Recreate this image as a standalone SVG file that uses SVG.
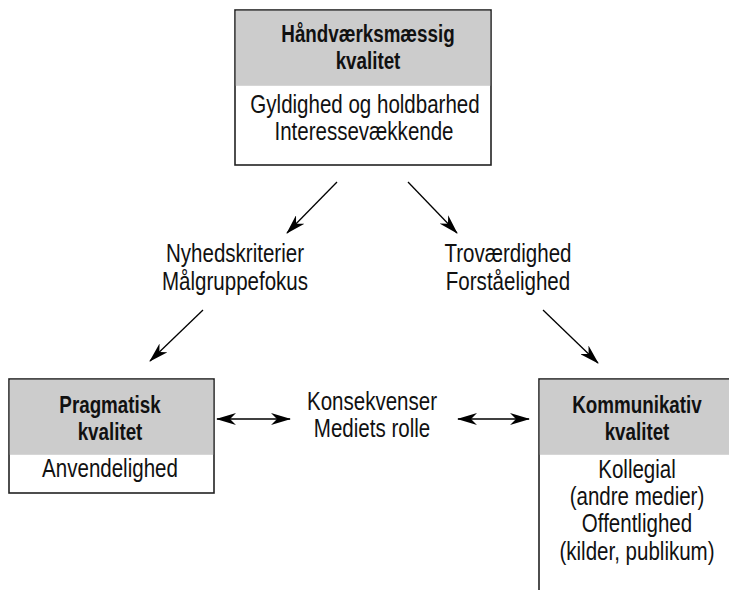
<svg xmlns="http://www.w3.org/2000/svg" width="729" height="590" viewBox="0 0 729 590">
<defs>
<style>
.box{fill:#fff;stroke:#222;stroke-width:1.6}
.hdr{fill:#cccccc}
.t{font-family:"Liberation Sans",Arial,sans-serif;font-size:26px;fill:#111;text-anchor:middle}
.b{font-family:"Liberation Sans",Arial,sans-serif;font-size:23.5px;font-weight:bold;fill:#111;text-anchor:middle}
.c{stroke:#000;stroke-width:1.3;fill:none;marker-end:url(#ah)}
.d{marker-start:url(#ah2)}
</style>
<marker id="ah" viewBox="0 0 20 12" refX="19" refY="6" markerWidth="20" markerHeight="12" orient="auto" markerUnits="userSpaceOnUse"><path d="M0,0 L20,6 L0,12 L6,6 z" fill="#000"/></marker>
<marker id="ah2" viewBox="0 0 20 12" refX="19" refY="6" markerWidth="20" markerHeight="12" orient="auto-start-reverse" markerUnits="userSpaceOnUse"><path d="M0,0 L20,6 L0,12 L6,6 z" fill="#000"/></marker>
</defs>
<rect width="729" height="590" fill="#fff"/>
<g id="top">
<rect class="box" x="235" y="10" width="256" height="155"/>
<rect class="hdr" x="235.8" y="10.8" width="254.4" height="75"/>
<text class="b" transform="translate(368,42) scale(0.8,1)">Håndværksmæssig</text>
<text class="b" transform="translate(368,69) scale(0.8,1)">kvalitet</text>
<text class="t" transform="translate(365,113) scale(0.79,1)">Gyldighed og holdbarhed</text>
<text class="t" transform="translate(364,140) scale(0.79,1)">Interessevækkende</text>
</g>
<g id="pragmatisk">
<rect class="box" x="9" y="379" width="205" height="114"/>
<rect class="hdr" x="9.8" y="379.8" width="203.4" height="75"/>
<text class="b" transform="translate(110,413) scale(0.8,1)">Pragmatisk</text>
<text class="b" transform="translate(110,440) scale(0.8,1)">kvalitet</text>
<text class="t" transform="translate(110,477) scale(0.79,1)">Anvendelighed</text>
</g>
<g id="kommunikativ">
<rect class="box" x="539" y="379" width="220" height="240"/>
<rect class="hdr" x="539.8" y="379.8" width="218" height="75"/>
<text class="b" transform="translate(637,413) scale(0.8,1)">Kommunikativ</text>
<text class="b" transform="translate(637,440) scale(0.8,1)">kvalitet</text>
<text class="t" transform="translate(637,478) scale(0.79,1)">Kollegial</text>
<text class="t" transform="translate(637,505) scale(0.79,1)">(andre medier)</text>
<text class="t" transform="translate(637,532) scale(0.79,1)">Offentlighed</text>
<text class="t" transform="translate(637,560) scale(0.79,1)">(kilder, publikum)</text>
</g>
<g id="label-left">
<text class="t" transform="translate(235,262) scale(0.79,1)">Nyhedskriterier</text>
<text class="t" transform="translate(235,290) scale(0.79,1)">Målgruppefokus</text>
</g>
<g id="label-right">
<text class="t" transform="translate(508,262) scale(0.79,1)">Troværdighed</text>
<text class="t" transform="translate(508,290) scale(0.79,1)">Forståelighed</text>
</g>
<g id="label-mid">
<text class="t" transform="translate(372,410) scale(0.79,1)">Konsekvenser</text>
<text class="t" transform="translate(372,437) scale(0.79,1)">Mediets rolle</text>
</g>
<g id="connectors">
<line class="c" x1="337" y1="182" x2="287" y2="233"/>
<line class="c" x1="408" y1="182" x2="457" y2="233"/>
<line class="c" x1="203" y1="310" x2="150" y2="361"/>
<line class="c" x1="543" y1="310" x2="598" y2="363"/>
<line class="c d" x1="217" y1="419" x2="290" y2="419"/>
<line class="c d" x1="458" y1="419" x2="529" y2="419"/>
</g>
</svg>
